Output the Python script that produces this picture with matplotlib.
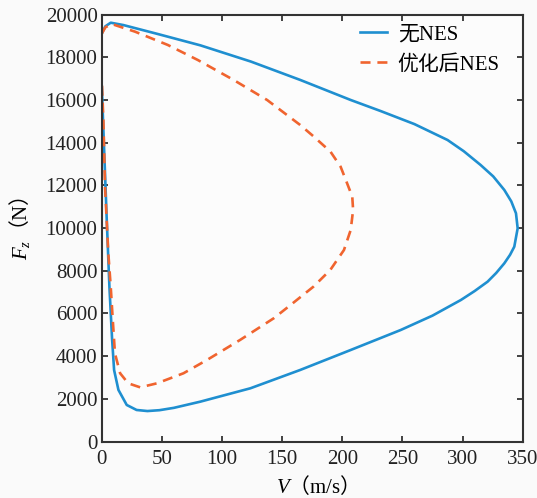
import matplotlib

matplotlib.use('Agg')

import matplotlib.pyplot as plt

# blue: without NES (V in m/s, Fz in N), traced along the loop
v_no_nes = [0, 3, 7.5, 18, 46, 82, 124, 165, 207, 232, 260, 287.5, 301, 315, 325.5, 334.7,
            340.5, 344.4, 345.8, 343, 339.5, 334.7, 328, 320.8, 310, 298.6, 275, 248.6, 207,
            165, 123.6, 82, 60, 48, 38, 29, 20.8, 13.9, 10.3, 8.6, 6.4, 4.2, 1.4, 0.5, 0]
fz_no_nes = [19100, 19450, 19620, 19510, 19100, 18560, 17800, 16940, 16000, 15480, 14870,
             14126, 13600, 12955, 12420, 11785, 11250, 10693, 9990, 9129, 8750, 8350, 7900,
             7490, 7050, 6632, 5900, 5227, 4290, 3354, 2496, 1870, 1580, 1470, 1430, 1480,
             1715, 2420, 3350, 4830, 7255, 10380, 14595, 16000, 16700]

# orange dashed: optimized NES
v_opt = [0, 3, 8.3, 27.7, 55, 80, 109.7, 137.5, 165, 176, 190.2, 198.6, 204, 208.3, 209,
         207, 201.4, 190, 176, 157, 143, 115, 87.5, 68, 46, 32, 22, 15.3, 11, 9.2, 7.5, 5.5,
         2.75, 1.4, 0]
fz_opt = [19100, 19400, 19560, 19200, 18576, 17870, 16937, 16000, 14829, 14300, 13578,
          12876, 12098, 11471, 10848, 9911, 8974, 8037, 7255, 6398, 5775, 4759, 3822, 3200,
          2730, 2540, 2730, 3200, 4135, 5695, 7255, 8820, 11940, 15063, 17000]

labels = ['无NES', '优化后NES']
x_ticks = [0, 50, 100, 150, 200, 250, 300, 350]
y_ticks = list(range(0, 20001, 2000))

plt.rcParams['font.family'] = ['Liberation Serif', 'Noto Sans CJK SC']
plt.rcParams['mathtext.fontset'] = 'custom'
plt.rcParams['mathtext.rm'] = 'Liberation Serif'
plt.rcParams['mathtext.it'] = 'Liberation Serif:italic'
plt.rcParams['mathtext.sf'] = 'Noto Sans CJK SC'
plt.rcParams['font.size'] = 15

fig = plt.figure(figsize=(5.37, 4.98), dpi=100, facecolor='#fafafa')
ax = fig.add_axes([0.1894, 0.1133, 0.784, 0.8574])
ax.set_facecolor('#fcfcfc')

ax.plot(v_no_nes, fz_no_nes, color='#1f8fd0', lw=1.9, label=labels[0])
ax.plot(v_opt, fz_opt, color='#f0642f', lw=1.9, ls=(0, (3.8, 2.6)), label=labels[1])

ax.set_xlim(0, 350)
ax.set_ylim(0, 20000)
ax.set_xticks(x_ticks)
ax.set_yticks(y_ticks)
ax.tick_params(direction='in', length=4, width=1.2, top=True, right=True, colors='#222222')
ax.tick_params(axis='x', pad=6)
ax.tick_params(axis='y', pad=3)
for s in ax.spines.values():
    s.set_linewidth(1.5)
    s.set_color('#333333')

ax.set_xlabel(r'$V\mathsf{（}\mathrm{m/s}\mathsf{）}$', labelpad=4)
ax.set_ylabel(r'$F_z\mathsf{（}\mathrm{N}\mathsf{）}$', labelpad=10)

ax.legend(loc='upper right', bbox_to_anchor=(0.97, 1.0), frameon=False, handlelength=1.3,
          handletextpad=0.5, borderaxespad=0.1, labelspacing=0.5, fontsize=15)

fig.savefig('out.png', dpi=100, facecolor=fig.get_facecolor())
